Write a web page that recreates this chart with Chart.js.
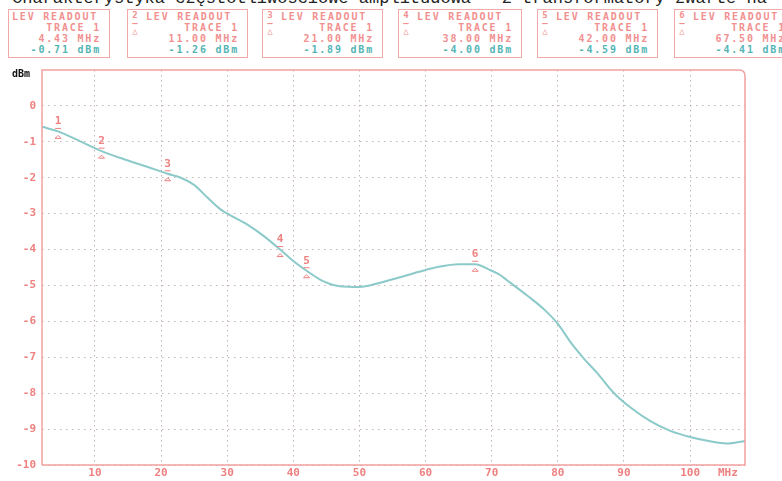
<!DOCTYPE html>
<html lang="pl">
  <head>
    <meta charset="UTF-8" />
    <title>LEV READOUT</title>
    <script src="https://cdn.jsdelivr.net/npm/chart.js@4"></script>
    <style>
      body { margin: 0; background: #fff; width: 782px; height: 481px; overflow: hidden; position: relative; }
      #tytul { position: absolute; left: 12px; top: -11px; font: 17px "Liberation Mono", monospace; color: #222; white-space: nowrap; }
      .box { position: absolute; top: 9px; height: 49px; border: 1px solid #f4a9a9; box-sizing: border-box;
             font: 10px "DejaVu Sans Mono", monospace; font-weight: bold; letter-spacing: 1.8px; color: #f29090; line-height: 11px; }
      .box .l1 { position: absolute; top: 1px; }
      .box .r { position: absolute; right: 8px; text-align: right; }
      .box .db { color: #55b5b5; }
      .box .sym { position: absolute; left: 2px; top: 1px; font-size: 9px; line-height: 8px; letter-spacing: 0; text-align: center; width: 10px; }
      #wykres { position: absolute; left: 0; top: 0; }
    </style>
  </head>
  <body>
    <div id="tytul">Charakterystyka częstotliwościowe amplitudowa - 2 transformatory zwarte na</div>
    <div id="naglowek"></div>
    <canvas id="wykres" width="782" height="481"></canvas>
  </body>
</html>
<script>
  // przebieg (MHz, dBm)
  var czestotliwosc = [2, 4.43, 7, 11, 15, 18, 21, 23, 25, 27, 29, 31, 33, 35.5, 38, 40, 42, 44.5, 47, 50, 53, 56, 59, 62, 65, 67.5, 69.5, 71, 73, 75.5, 78, 80, 82, 84, 86, 88.5, 91, 94, 97, 100, 103, 105.5, 108.3];
  var poziom = [-0.58, -0.71, -0.92, -1.26, -1.52, -1.7, -1.89, -2.0, -2.2, -2.55, -2.88, -3.1, -3.3, -3.62, -4.0, -4.32, -4.59, -4.88, -5.02, -5.04, -4.93, -4.78, -4.62, -4.48, -4.41, -4.41, -4.55, -4.68, -4.95, -5.3, -5.68, -6.07, -6.6, -7.05, -7.45, -8.0, -8.4, -8.78, -9.05, -9.22, -9.34, -9.4, -9.33];

  // markery
  var markerNr = [1, 2, 3, 4, 5, 6];
  var markerMHz = [4.43, 11.0, 21.0, 38.0, 42.0, 67.5];
  var markerDbm = [-0.71, -1.26, -1.89, -4.0, -4.59, -4.41];
  var markerMHzTxt = ["4.43 MHz", "11.00 MHz", "21.00 MHz", "38.00 MHz", "42.00 MHz", "67.50 MHz"];
  var markerDbmTxt = ["-0.71 dBm", "-1.26 dBm", "-1.89 dBm", "-4.00 dBm", "-4.59 dBm", "-4.41 dBm"];

  var xTicks = [10, 20, 30, 40, 50, 60, 70, 80, 90, 100];
  var yTicks = [0, -1, -2, -3, -4, -5, -6, -7, -8, -9, -10];

  var czerwony = "#f3a0a0";
  var napisy = "#ee8080";
  var turkus = "#8ccaca";

  // ramki z odczytami
  var lewe = [8, 127, 262, 398, 537, 674];
  var prawe = [110, 248, 383, 522, 658, 795];
  var naglowek = document.getElementById("naglowek");
  for (var i = 0; i < markerNr.length; i++) {
    var d = document.createElement("div");
    d.className = "box";
    d.style.left = lewe[i] + "px";
    d.style.width = (prawe[i] - lewe[i]) + "px";
    var html = "";
    if (i > 0) {
      html += '<div class="sym">' + markerNr[i] + "<br>&#8211;<br>&#9651;</div>";
      html += '<div class="l1" style="left:18px">LEV READOUT</div>';
    } else {
      html += '<div class="l1" style="left:3px">LEV READOUT</div>';
    }
    html += '<div class="r" style="top:12px">TRACE 1</div>';
    html += '<div class="r" style="top:23px">' + markerMHzTxt[i] + "</div>";
    html += '<div class="r db" style="top:34px">' + markerDbmTxt[i] + "</div>";
    d.innerHTML = html;
    naglowek.appendChild(d);
  }

  var ramka = {
    id: "ramka",
    afterDraw: function (chart) {
      var ctx = chart.ctx;
      var a = chart.chartArea;
      ctx.save();
      ctx.strokeStyle = czerwony;
      ctx.lineWidth = 1.5;
      ctx.beginPath();
      ctx.moveTo(a.left, a.bottom);
      ctx.lineTo(a.left, a.top);
      ctx.lineTo(a.right - 6, a.top);
      ctx.quadraticCurveTo(a.right, a.top, a.right, a.top + 6);
      ctx.lineTo(a.right, a.bottom);
      ctx.lineTo(a.left, a.bottom);
      ctx.stroke();

      // opis osi
      ctx.fillStyle = "#111";
      ctx.font = "bold 10px 'DejaVu Sans Mono'";
      ctx.textAlign = "left";
      ctx.textBaseline = "middle";
      ctx.fillText("dBm", 12, 74);
      ctx.fillStyle = napisy;
      ctx.font = "bold 11px 'DejaVu Sans Mono'";
      ctx.fillText("MHz", a.right - 27, 473);

      // markery na krzywej
      var sx = chart.scales.x;
      var sy = chart.scales.y;
      for (var i = 0; i < markerNr.length; i++) {
        var px = sx.getPixelForValue(markerMHz[i]);
        var py = sy.getPixelForValue(markerDbm[i]);
        ctx.fillStyle = napisy;
        ctx.strokeStyle = napisy;
        ctx.lineWidth = 1;
        ctx.textAlign = "center";
        ctx.font = "bold 11px 'DejaVu Sans Mono'";
        ctx.fillText(String(markerNr[i]), px, py - 10);
        ctx.beginPath();
        ctx.moveTo(px - 3, py - 3);
        ctx.lineTo(px + 3, py - 3);
        ctx.stroke();
        ctx.beginPath();
        ctx.moveTo(px - 3, py + 7);
        ctx.lineTo(px + 3, py + 7);
        ctx.lineTo(px, py + 4);
        ctx.closePath();
        ctx.stroke();
      }
      ctx.restore();
    },
  };

  var siatka = {
    color: "rgba(170, 150, 150, 0.7)",
    lineWidth: 1,
    drawTicks: false,
  };

  new Chart(document.getElementById("wykres"), {
    type: "line",
    data: {
      datasets: [
        {
          data: czestotliwosc.map(function (f, i) {
            return { x: f, y: poziom[i] };
          }),
          borderColor: turkus,
          borderWidth: 2,
          pointRadius: 0,
          tension: 0.4,
          cubicInterpolationMode: "monotone",
        },
      ],
    },
    options: {
      responsive: false,
      animation: false,
      layout: { padding: { top: 70, right: 37, left: 0, bottom: 0 } },
      plugins: { legend: { display: false }, tooltip: { enabled: false } },
      scales: {
        x: {
          type: "linear",
          min: 2,
          max: 108.3,
          afterBuildTicks: function (s) {
            s.ticks = xTicks.map(function (v) { return { value: v }; });
          },
          afterFit: function (s) { s.height = 16; },
          grid: Object.assign({}, siatka),
          border: { display: false, dash: [1.5, 3.5] },
          ticks: {
            color: napisy,
            padding: 2,
            maxRotation: 0,
            font: { family: "DejaVu Sans Mono", size: 11, weight: "bold" },
          },
        },
        y: {
          min: -10,
          max: 1,
          afterBuildTicks: function (s) {
            s.ticks = yTicks.map(function (v) { return { value: v }; });
          },
          afterFit: function (s) { s.width = 42; },
          grid: Object.assign({}, siatka),
          border: { display: false, dash: [1.5, 4.5] },
          ticks: {
            color: napisy,
            padding: 6,
            font: { family: "DejaVu Sans Mono", size: 11, weight: "bold" },
          },
        },
      },
    },
    plugins: [ramka],
  });
</script>
